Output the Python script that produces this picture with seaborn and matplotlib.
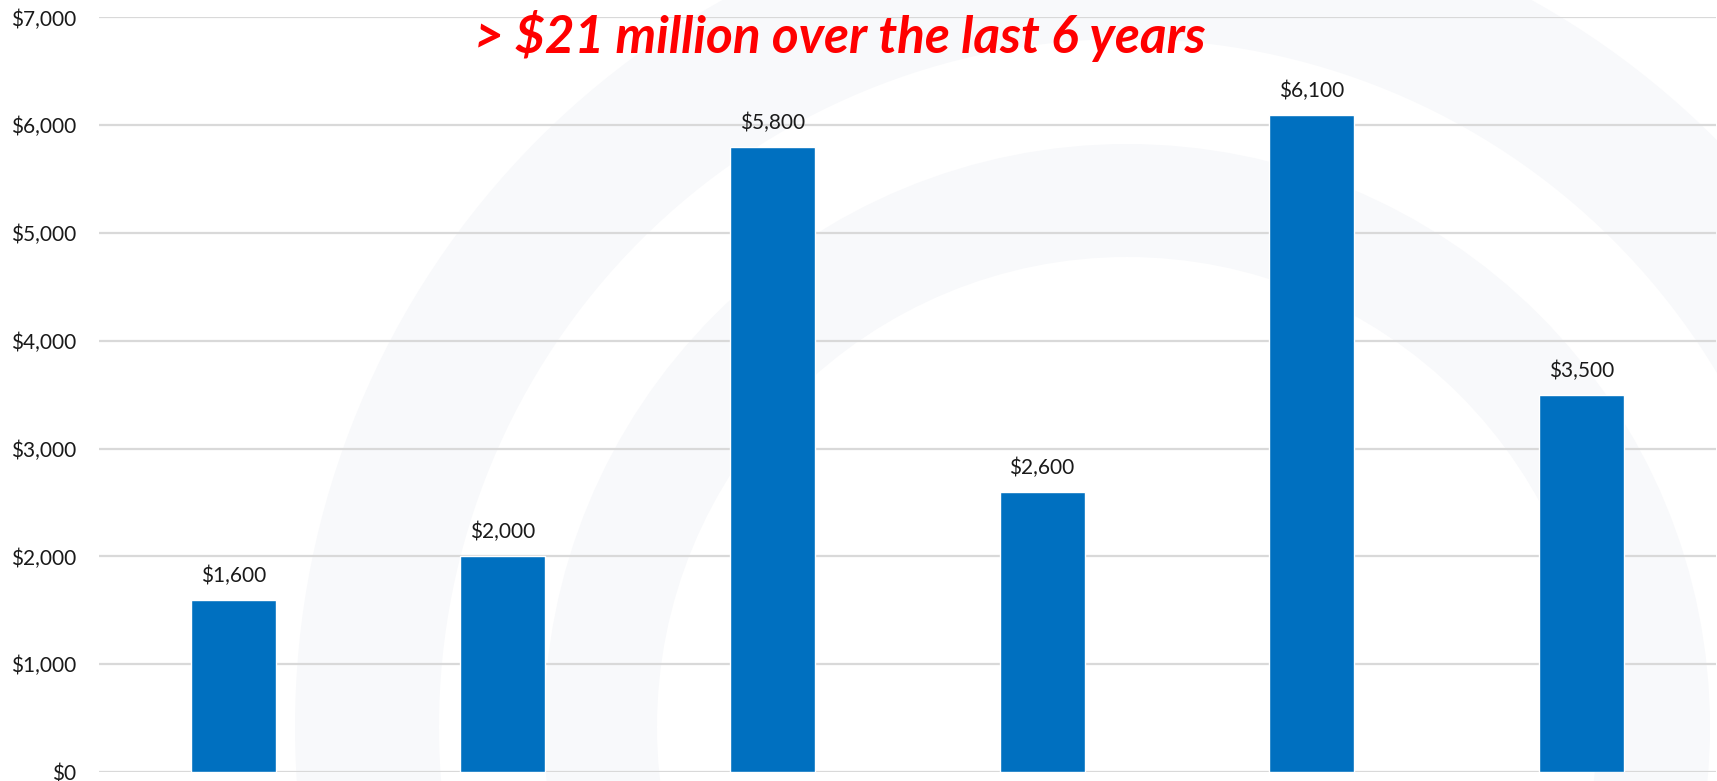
import matplotlib.pyplot as plt
import matplotlib.patches as mpatches
import pandas as pd
import seaborn as sns
from matplotlib.ticker import FuncFormatter

# values in $ thousands, one bar per year (no x labels shown in the source)
years = ["Year 1", "Year 2", "Year 3", "Year 4", "Year 5", "Year 6"]
amounts = [1600, 2000, 5800, 2600, 6100, 3500]
yticks = [0, 1000, 2000, 3000, 4000, 5000, 6000, 7000]
title = "> $21 million over the last 6 years"

df = pd.DataFrame({"year": years, "amount": amounts})

sns.set_style("white")
plt.rcParams["font.family"] = ["Lato", "DejaVu Sans"]

W, H = 1717, 781
fig = plt.figure(figsize=(W / 100, H / 100), dpi=100)

# faint logo rings, drawn in pixel units on a background axes
bg = fig.add_axes((0, 0, 1, 1), zorder=0)
bg.set_xlim(0, W)
bg.set_ylim(H, 0)
bg.set_axis_off()
wm = "#f8f9fb"
cx, cy = 1127, 727
bg.add_patch(mpatches.Circle((cx, cy), 832, color=wm, lw=0))
bg.add_patch(mpatches.Circle((cx, cy), 688, color="white", lw=0))
bg.add_patch(mpatches.Circle((cx, cy), 583, color=wm, lw=0))
bg.add_patch(mpatches.Circle((cx, cy), 470, color="white", lw=0))

ax = fig.add_axes((0.0574, 0.0115, 0.9420, 0.9661), zorder=1)

sns.barplot(data=df, x="year", y="amount", color="#0070c0", width=0.315,
            saturation=1, ax=ax, zorder=3)

ax.set_ylim(0, 7000)
ax.set_yticks(yticks)
ax.yaxis.set_major_formatter(FuncFormatter(lambda v, _: f"${v:,.0f}"))
ax.grid(axis="y", color="#d9d9d9", linewidth=1.6, zorder=0)
ax.set_axisbelow(True)
ax.set_xlabel("")
ax.set_ylabel("")
ax.set_xticklabels([])
ax.tick_params(axis="x", length=0)
ax.tick_params(axis="y", length=0, labelsize=15, labelcolor="#1a1a1a", pad=16)
for s in ax.spines.values():
    s.set_visible(False)
ax.patch.set_alpha(0)

for bar, val in zip(ax.patches, amounts):
    ax.annotate(f"${val:,}", (bar.get_x() + bar.get_width() / 2, val),
                xytext=(0, 10), textcoords="offset points",
                ha="center", va="bottom", fontsize=15, color="#1a1a1a")

fig.text(0.489, 0.932, title, ha="center", va="baseline", zorder=5,
         color="#ff0000", fontsize=37, fontweight="bold", fontstyle="italic")

fig.savefig("out.png", dpi=100)
